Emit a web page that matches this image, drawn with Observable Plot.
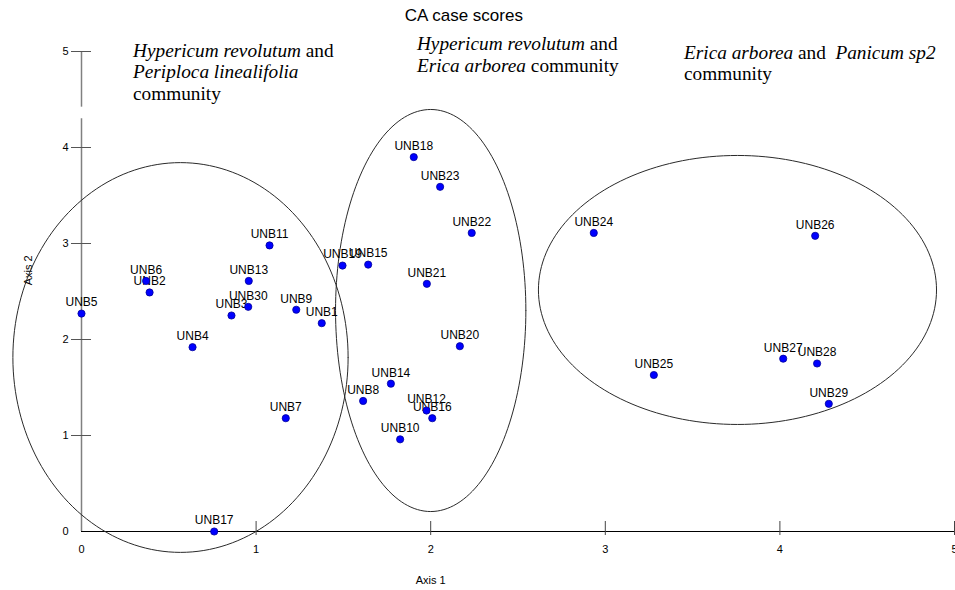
<!DOCTYPE html>
<html>
<head>
<meta charset="utf-8">
<script src="https://cdn.jsdelivr.net/npm/d3@7"></script>
<script src="https://cdn.jsdelivr.net/npm/@observablehq/plot@0.6"></script>
<style>
  html, body { margin: 0; padding: 0; background: #fff; }
  #chart svg { display: block; }
</style>
</head>
<body>
<div id="chart"></div>
<script>
// ---- data ----
const siteNames = ["UNB1","UNB2","UNB3","UNB4","UNB5","UNB6","UNB7","UNB8","UNB9","UNB10",
  "UNB11","UNB12","UNB13","UNB14","UNB15","UNB16","UNB17","UNB18","UNB19","UNB20",
  "UNB21","UNB22","UNB23","UNB24","UNB25","UNB26","UNB27","UNB28","UNB29","UNB30"];
const axis1Scores = [1.376,0.39,0.859,0.636,0.0,0.37,1.17,1.613,1.23,1.825,
  1.077,1.976,0.958,1.772,1.642,2.009,0.76,1.903,1.495,2.167,
  1.978,2.235,2.054,2.934,3.278,4.202,4.019,4.213,4.28,0.955];
const axis2Scores = [2.17,2.49,2.25,1.92,2.27,2.61,1.18,1.36,2.31,0.96,
  2.98,1.26,2.61,1.54,2.78,1.18,0.0,3.90,2.77,1.93,
  2.58,3.11,3.59,3.11,1.63,3.08,1.80,1.75,1.33,2.34];

const xTickValues = [0,1,2,3,4,5];
const yTickValues = [0,1,2,3,4,5];

// community ellipses (centre and radii in axis units)
const ellipseCx = [0.567, 2.000, 3.757];
const ellipseCy = [1.8125, 2.302, 2.516];
const ellipseRx = [0.960, 0.545, 1.140];
const ellipseRy = [2.03, 2.094, 1.401];

// annotation text (anchor = left edge / first line)
const annoX = [0.298, 1.924, 3.454];
const annoY = [5.01, 5.08, 4.99];
const annoLines = [
  ["*Hypericum revolutum* and", "*Periploca linealifolia*", "community"],
  ["*Hypericum revolutum* and", "*Erica arborea* community"],
  ["*Erica arborea* and\u00a0 *Panicum sp2*", "community"]
];

// y-axis line segments (the reference has a small break near the top)
const yAxisY1 = [0, 4.42];
const yAxisY2 = [4.30, 5];

// ---- build tables ----
const sites = siteNames.map((n, i) => ({name: n, x: axis1Scores[i], y: axis2Scores[i]}));
const ellipsePts = [];
ellipseCx.forEach((cx, k) => {
  for (let j = 0; j <= 180; j++) {
    const t = (j / 180) * 2 * Math.PI;
    ellipsePts.push({k, x: cx + ellipseRx[k] * Math.cos(t), y: ellipseCy[k] + ellipseRy[k] * Math.sin(t)});
  }
});
const yAxisSegs = yAxisY1.map((v, i) => ({y1: v, y2: yAxisY2[i]}));

const W = 955, H = 590, mT = 51, mB = 59, mL = 81, mR = 1;
const font = "'Liberation Sans', Arial, sans-serif";

const svg = Plot.plot({
  width: W, height: H,
  marginTop: mT, marginBottom: mB, marginLeft: mL, marginRight: mR,
  style: {fontFamily: font, background: "#fff", overflow: "visible"},
  x: {domain: [0, 5], axis: null},
  y: {domain: [0, 5], axis: null},
  marks: [
    // axes
    Plot.ruleX(yAxisSegs, {x: 0, y1: "y1", y2: "y2", stroke: "#808080", strokeWidth: 1.5}),
    Plot.ruleY([0], {x1: 0, x2: 5, stroke: "#000", strokeWidth: 1}),
    Plot.tickX(xTickValues.slice(1), {x: d => d, stroke: "#444", insetTop: H - mB - mT - 10, insetBottom: -4}),
    Plot.tickY(yTickValues.slice(1), {y: d => d, stroke: "#555", insetLeft: -10, insetRight: (W - mR) - mL - 10}),
    Plot.text(xTickValues, {x: d => d, frameAnchor: "bottom", lineAnchor: "middle", dy: 18, text: d => String(d), fontSize: 11, fill: "#000"}),
    Plot.text(yTickValues, {y: d => d, frameAnchor: "left", textAnchor: "end", dx: -13, text: d => String(d), fontSize: 11, fill: "#000"}),
    Plot.text(["Axis 1"], {x: 2, frameAnchor: "bottom", lineAnchor: "middle", dy: 49, text: d => d, fontSize: 11}),
    Plot.text(["Axis 2"], {y: 2.72, frameAnchor: "left", textAnchor: "middle", dx: -53, rotate: -90, text: d => d, fontSize: 11}),
    Plot.text(["CA case scores"], {x: 2.19, frameAnchor: "top", lineAnchor: "middle", dy: -36, text: d => d, fontSize: 17}),
    // ellipses
    Plot.line(ellipsePts, {x: "x", y: "y", z: "k", stroke: "#2a2a2a", strokeWidth: 1, curve: "linear"}),
    // labels then points
    Plot.text(sites, {x: "x", y: "y", text: "name", dy: -11, fontSize: 12, fill: "#000"}),
    Plot.dot(sites, {x: "x", y: "y", r: 3.6, fill: "#0000ff", stroke: "#00009a", strokeWidth: 0.8})
  ]
});

// rich (italic / roman) annotations positioned through Plot's scales
const xs = svg.scale("x"), ys = svg.scale("y");
const fs = 19.3, lh = 21.5;
const g = d3.select(svg).append("g")
  .attr("font-family", "'Liberation Serif', 'Times New Roman', serif")
  .attr("font-size", fs).attr("fill", "#000").attr("text-anchor", "start");
annoLines.forEach((lines, a) => {
  const px = xs.apply(annoX[a]), py = ys.apply(annoY[a]);
  lines.forEach((line, li) => {
    const t = g.append("text").attr("x", px).attr("y", py + li * lh).attr("dy", "0.35em")
      .attr("text-anchor", "start").attr("xml:space", "preserve");
    line.split("*").forEach((seg, si) => {
      if (!seg) return;
      t.append("tspan").attr("font-style", si % 2 === 1 ? "italic" : "normal").text(seg);
    });
  });
});

document.getElementById("chart").appendChild(svg);
</script>
</body>
</html>
